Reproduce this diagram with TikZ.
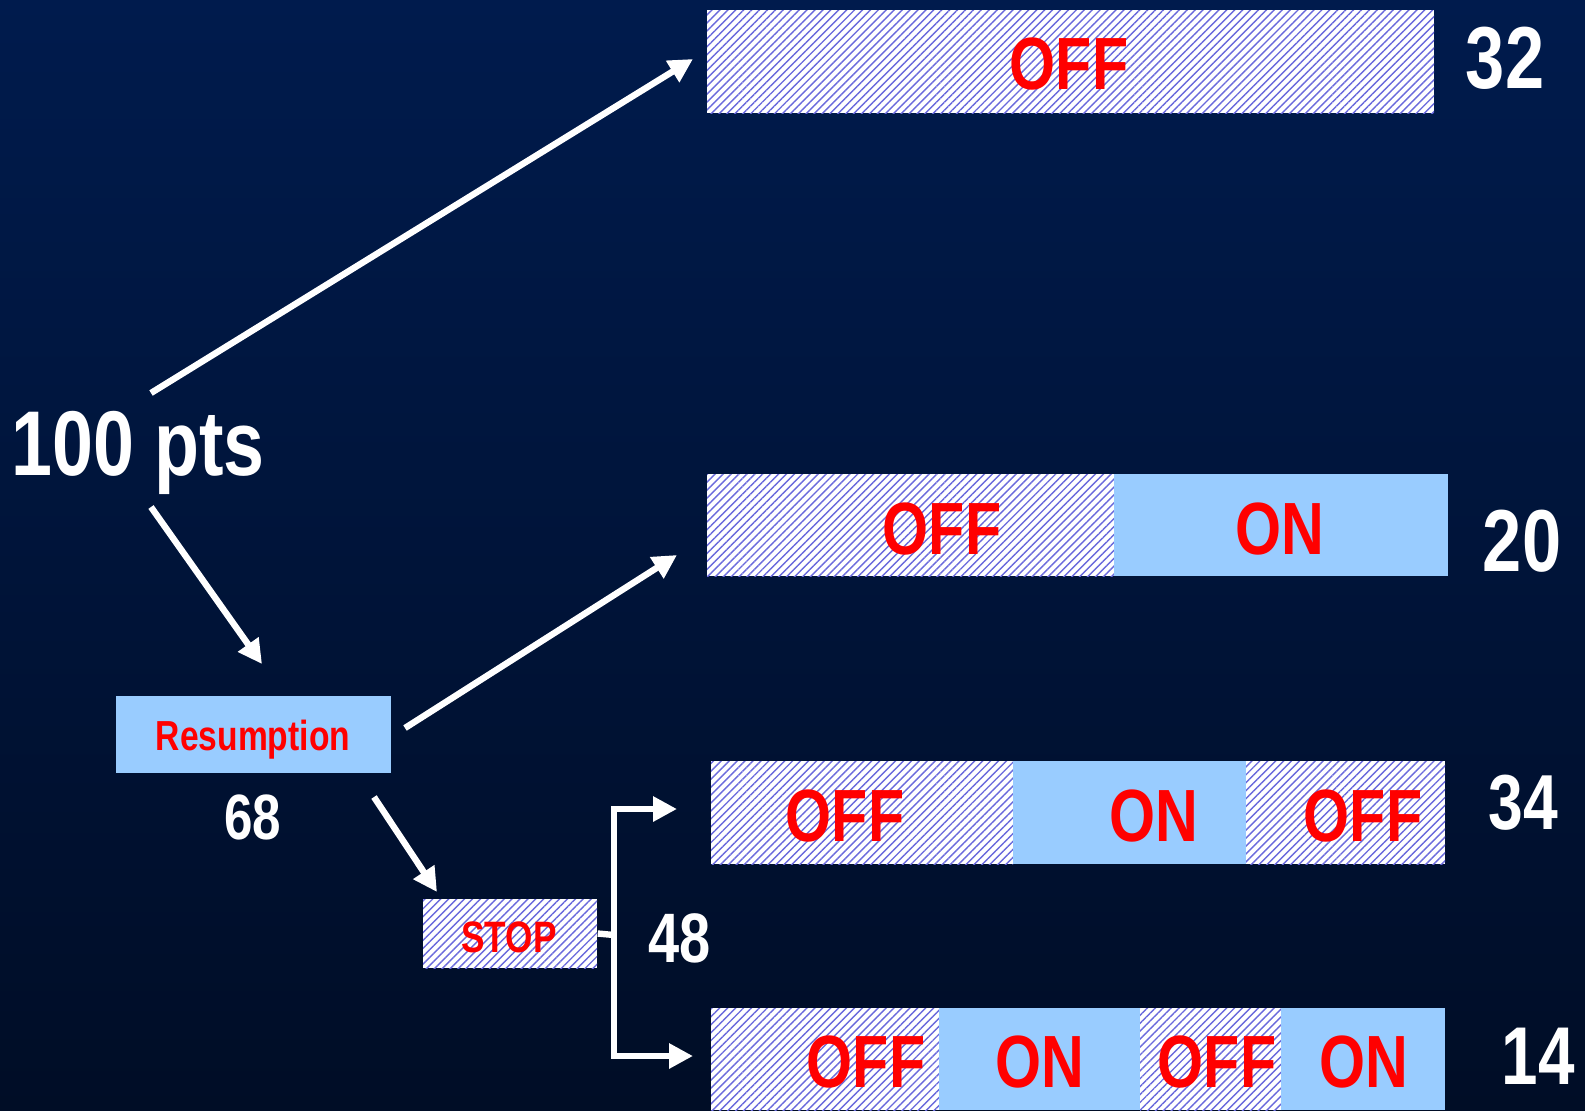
\documentclass[tikz,border=0pt]{standalone}
\usepackage{fontspec}
\setmainfont{Liberation Sans}[FakeStretch=0.8]
\usetikzlibrary{arrows.meta,patterns.meta,fit}

\definecolor{bgtop}{RGB}{0,27,77}
\definecolor{bgbot}{RGB}{0,13,38}
\definecolor{onblue}{RGB}{153,204,255}
\definecolor{hatchblue}{RGB}{105,105,220}

\begin{document}
\begin{tikzpicture}[x=0.5pt,y=-0.5pt,
    offseg/.style={inner sep=0pt, preaction={fill=white},
      pattern={Lines[angle=45,distance=2.8pt,line width=0.7pt]}, pattern color=hatchblue},
    onseg/.style={inner sep=0pt, fill=onblue},
    lab/.style={anchor=base, inner sep=0pt, text=red, font=\bfseries\fontsize{37}{40}\selectfont},
    num/.style={anchor=base, inner sep=0pt, text=white, font=\bfseries\fontsize{44}{48}\selectfont},
    arr/.style={draw=white, line width=3.2pt, -{Triangle[length=12pt,width=12pt]}}]

    % background
    \shade[top color=bgtop, bottom color=bgbot] (0,0) rectangle (1585,1110);

    % start
    \node[num, font=\bfseries\fontsize{46}{50}\selectfont] (pts) at (138,475) {100 pts};

    % resumption and stop boxes
    \node[onseg, fit={(116,696) (391,773)}] (res) {};
    \node[lab, font=\bfseries\fontsize{21}{24}\selectfont] (reslab) at (253,750) {Resumption};
    \node[num, font=\bfseries\fontsize{32}{36}\selectfont] (n68) at (253,839) {68};
    \node[offseg, fit={(423,899) (597,968)}] (stop) {};
    \node[lab, font=\bfseries\fontsize{22}{24}\selectfont] (stoplab) at (509,952) {STOP};
    \node[num, font=\bfseries\fontsize{35}{38}\selectfont] (n48) at (680,962) {48};

    % bar 1
    \node[offseg, fit={(707,10) (1434,113)}] (b1) {};
    \node[lab] (b1off) at (1069,89) {OFF};
    \node[num] (n32) at (1505,88) {32};

    % bar 2
    \node[offseg, fit={(707,474) (1114,576)}] (b2a) {};
    \node[onseg, fit={(1114,474) (1448,576)}] (b2b) {};
    \node[lab] (b2off) at (942,554) {OFF};
    \node[lab] (b2on) at (1280,554) {ON};
    \node[num] (n20) at (1522,571) {20};

    % bar 3
    \node[offseg, fit={(711,761) (1013,864)}] (b3a) {};
    \node[onseg, fit={(1013,761) (1246,864)}] (b3b) {};
    \node[offseg, fit={(1246,761) (1445,864)}] (b3c) {};
    \node[lab] (b3off) at (845,841) {OFF};
    \node[lab] (b3on) at (1154,841) {ON};
    \node[lab] (b3off2) at (1363,841) {OFF};
    \node[num, font=\bfseries\fontsize{39}{42}\selectfont] (n34) at (1523,829) {34};

    % bar 4
    \node[offseg, fit={(711,1008) (939,1110)}] (b4a) {};
    \node[onseg, fit={(939,1008) (1140,1110)}] (b4b) {};
    \node[offseg, fit={(1140,1008) (1281,1110)}] (b4c) {};
    \node[onseg, fit={(1281,1008) (1445,1110)}] (b4d) {};
    \node[lab] (b4off) at (866,1087) {OFF};
    \node[lab] (b4on) at (1040,1087) {ON};
    \node[lab] (b4off2) at (1217,1087) {OFF};
    \node[lab] (b4on2) at (1364,1087) {ON};
    \node[num, font=\bfseries\fontsize{41}{44}\selectfont] (n14) at (1538,1084) {14};

    % arrow ends
    \coordinate (a1s) at (151,393);
    \coordinate (a1e) at (693,59);
    \coordinate (a2s) at (151,507);
    \coordinate (a2e) at (262,664);
    \coordinate (a3s) at (405,728);
    \coordinate (a3e) at (677,555);
    \coordinate (a4s) at (374,797);
    \coordinate (a4e) at (437,892);
    \coordinate (fork) at (614,935);
    \coordinate (a5e) at (677,809);
    \coordinate (a6e) at (693,1056);

    \draw[arr] (a1s) -- (a1e);
    \draw[arr] (a2s) -- (a2e);
    \draw[arr] (a3s) -- (a3e);
    \draw[arr] (a4s) -- (a4e);
    \draw[draw=white, line width=3.2pt] (stop.east) -- (fork);
    \draw[arr] (fork) |- (a5e);
    \draw[arr] (fork) |- (a6e);
\end{tikzpicture}
\end{document}
